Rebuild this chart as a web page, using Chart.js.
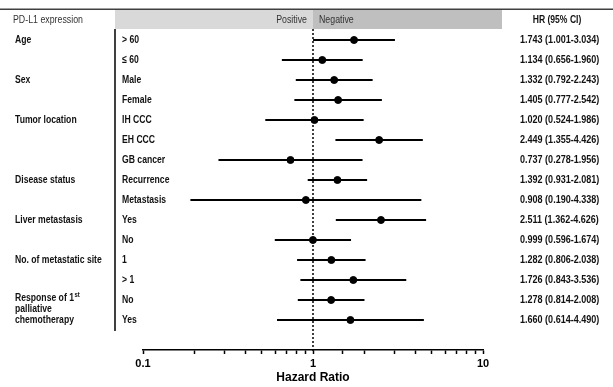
<!DOCTYPE html>
<html>
<head>
<meta charset="utf-8">
<script src="https://cdn.jsdelivr.net/npm/chart.js@4.4.1/dist/chart.umd.min.js"></script>
<style>
  html, body { margin: 0; padding: 0; background: #fff; }
  #wrap { width: 613px; height: 387px; }
</style>
</head>
<body>
<div id="wrap"><canvas id="forestChart"></canvas></div>
<script>
// subgroup rows, top to bottom
const subgroups = ['> 60', '≤ 60', 'Male', 'Female', 'IH CCC', 'EH CCC', 'GB cancer', 'Recurrence', 'Metastasis', 'Yes', 'No', '1', '> 1', 'No', 'Yes'];
const hazardRatio = [1.743, 1.134, 1.332, 1.405, 1.020, 2.449, 0.737, 1.392, 0.908, 2.511, 0.999, 1.282, 1.726, 1.278, 1.660];
const ciLower = [1.001, 0.656, 0.792, 0.777, 0.524, 1.355, 0.278, 0.931, 0.190, 1.362, 0.596, 0.806, 0.843, 0.814, 0.614];
const ciUpper = [3.034, 1.960, 2.243, 2.542, 1.986, 4.426, 1.956, 2.081, 4.338, 4.626, 1.674, 2.038, 3.536, 2.008, 4.490];

// group headings and the row each one starts on
const categories = ['Age', 'Sex', 'Tumor location', 'Disease status', 'Liver metastasis', 'No. of metastatic site', 'Response of 1st palliative chemotherapy'];
const categoryRows = [0, 2, 4, 7, 9, 11, 13];

const tickLabels = [0.1, 1, 10];

const ARIAL = "'Liberation Sans', Arial, sans-serif";
const ROW_FONT = 'bold 11.5px ' + ARIAL;

const fmt = v => v.toFixed(3);

// the original uses a narrow (Calibri-like) face, so squeeze Arial a bit
const squeeze = (ctx, t, x, y, f) => ctx.fillText(t, x, y, ctx.measureText(t).width * f);

const tablePlugin = {
  id: 'forestTable',
  beforeDraw(chart) {
    const ctx = chart.ctx;
    const x = chart.scales.x;
    const y = chart.scales.y;
    const one = x.getPixelForValue(1);
    ctx.save();

    // header band
    ctx.fillStyle = '#d9d9d9';
    ctx.fillRect(115, 10, one - 115, 19);
    ctx.fillStyle = '#bfbfbf';
    ctx.fillRect(one, 10, 502 - one, 19);
    ctx.strokeStyle = '#404040';
    ctx.lineWidth = 1.5;
    ctx.beginPath();
    ctx.moveTo(0, 9.25);
    ctx.lineTo(613, 9.25);
    ctx.stroke();

    ctx.textBaseline = 'middle';
    ctx.fillStyle = '#333';
    ctx.font = '11px ' + ARIAL;
    ctx.textAlign = 'left';
    squeeze(ctx, 'PD-L1 expression', 13, 20, 0.8);
    ctx.textAlign = 'right';
    squeeze(ctx, 'Positive', one - 6, 20, 0.8);
    ctx.textAlign = 'left';
    squeeze(ctx, 'Negative', one + 6, 20, 0.8);
    ctx.fillStyle = '#111';
    ctx.font = 'bold 11px ' + ARIAL;
    ctx.textAlign = 'center';
    squeeze(ctx, 'HR (95% CI)', 557, 20, 0.78);

    // separator between headings and subgroups
    ctx.strokeStyle = '#000';
    ctx.lineWidth = 1.5;
    ctx.beginPath();
    ctx.moveTo(115, 29);
    ctx.lineTo(115, 331);
    ctx.stroke();

    // rows
    ctx.fillStyle = '#111';
    ctx.font = ROW_FONT;
    ctx.textAlign = 'left';
    subgroups.forEach((s, i) => {
      const py = y.getPixelForValue(i);
      squeeze(ctx, s, 122, py, 0.75);
      squeeze(ctx, fmt(hazardRatio[i]) + ' (' + fmt(ciLower[i]) + '-' + fmt(ciUpper[i]) + ')', 520, py, 0.785);
    });

    categories.forEach((c, k) => {
      const py = y.getPixelForValue(categoryRows[k]);
      if (c.indexOf('1st') >= 0) {
        // wrapped heading with superscript
        const first = 'Response of 1';
        squeeze(ctx, first, 15, py - 2, 0.75);
        const w = ctx.measureText(first).width * 0.75;
        ctx.font = 'bold 7px ' + ARIAL;
        squeeze(ctx, 'st', 15 + w + 0.5, py - 5, 0.85);
        ctx.font = ROW_FONT;
        squeeze(ctx, 'palliative', 15, py + 9, 0.75);
        squeeze(ctx, 'chemotherapy', 15, py + 20, 0.75);
      } else {
        squeeze(ctx, c, 15, py, 0.75);
      }
    });
    ctx.restore();
  }
};

const ciSets = subgroups.map((s, i) => ({
  type: 'line',
  data: [{ x: ciLower[i], y: i }, { x: ciUpper[i], y: i }],
  borderColor: '#000',
  borderWidth: 1.8,
  pointRadius: 0,
  showLine: true
}));

const ctx = document.getElementById('forestChart').getContext('2d');
const forestChart = new Chart(ctx, {
  type: 'scatter',
  data: {
    datasets: [
      {
        type: 'line',
        data: [{ x: 1, y: -0.55 }, { x: 1, y: 15.6 }],
        borderColor: '#000',
        borderWidth: 1.5,
        borderDash: [2, 2],
        pointRadius: 0,
        clip: false
      },
      ...ciSets,
      {
        data: hazardRatio.map((v, i) => ({ x: v, y: i })),
        backgroundColor: '#000',
        borderColor: '#000',
        pointRadius: 3.5,
        pointHoverRadius: 3.5
      }
    ]
  },
  options: {
    responsive: true,
    maintainAspectRatio: false,
    animation: false,
    layout: { padding: { left: 143, right: 130, top: 29, bottom: 0 } },
    plugins: { legend: { display: false }, tooltip: { enabled: false } },
    scales: {
      x: {
        type: 'logarithmic',
        position: 'bottom',
        min: 0.1,
        max: 10,
        border: { color: '#000', width: 1.5 },
        grid: { drawOnChartArea: false, tickLength: 4, tickColor: '#000', tickWidth: 1.5 },
        ticks: {
          autoSkip: false,
          maxRotation: 0,
          padding: 3,
          color: '#000',
          font: { family: ARIAL, weight: 'bold', size: 11 },
          callback: v => tickLabels.includes(v) ? String(v) : ''
        },
        title: {
          display: true,
          text: 'Hazard Ratio',
          color: '#000',
          font: { family: ARIAL, weight: 'bold', size: 12 },
          padding: { top: 2, bottom: 2 }
        },
        afterFit: s => { s.height = 37; }
      },
      y: {
        type: 'linear',
        reverse: true,
        min: -0.55,
        max: 15.5,
        display: false
      }
    }
  },
  plugins: [tablePlugin]
});
</script>
</body>
</html>
